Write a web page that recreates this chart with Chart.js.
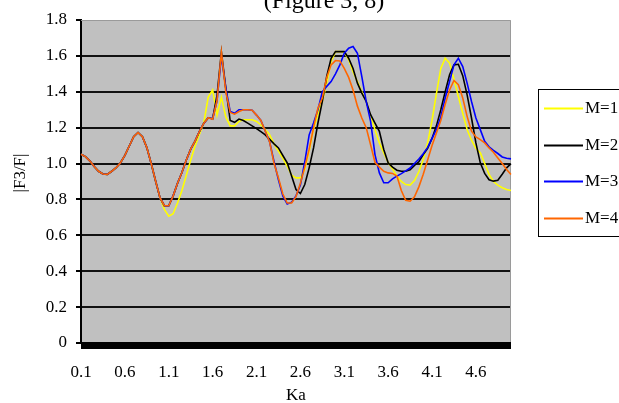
<!DOCTYPE html>
<html>
<head>
<meta charset="utf-8">
<script src="https://cdn.jsdelivr.net/npm/chart.js@4/dist/chart.umd.min.js"></script>
<style>
  html, body { margin: 0; padding: 0; background: #fff; overflow: hidden; }
  #wrap { position: relative; width: 660px; height: 410px; }
</style>
</head>
<body>
<div id="wrap"><canvas id="grafico" width="660" height="410"></canvas></div>
<script>
// ===== DATOS =====
const KA = [0.1,0.15,0.2,0.25,0.3,0.35,0.4,0.45,0.5,0.55,0.6,0.65,0.7,0.75,0.8,0.85,0.9,0.95,1.0,1.05,
            1.1,1.15,1.2,1.25,1.3,1.35,1.4,1.45,1.5,1.55,1.6,1.65,1.7,1.75,1.8,1.85,1.9,1.95,2.0,2.05,
            2.1,2.15,2.2,2.25,2.3,2.35,2.4,2.45,2.5,2.55,2.6,2.65,2.7,2.75,2.8,2.85,2.9,2.95,3.0,3.05,
            3.1,3.15,3.2,3.25,3.3,3.35,3.4,3.45,3.5,3.55,3.6,3.65,3.7,3.75,3.8,3.85,3.9,3.95,4.0,4.05,
            4.1,4.15,4.2,4.25,4.3,4.35,4.4,4.45,4.5,4.55,4.6,4.65,4.7,4.75,4.8,4.85,4.9,4.95,5.0];
const KA_TICKS = ['0.1','0.6','1.1','1.6','2.1','2.6','3.1','3.6','4.1','4.6'];

const M1 = [1.052,1.039,1.015,0.983,0.957,0.942,0.94,0.957,0.977,1.005,1.046,1.098,1.15,1.173,1.15,1.089,1.0,0.903,0.81,
            0.745,0.707,0.72,0.78,0.85,0.935,1.02,1.098,1.163,1.229,1.37,
            1.41,1.27,1.37,1.26,1.21,1.21,1.235,1.244,1.244,1.244,
            1.235,1.215,1.19,1.16,1.11,1.07,1.03,0.985,0.935,0.92,
            0.92,0.967,1.07,1.19,1.276,1.346,1.448,1.568,1.624,1.624,
            1.62,1.58,1.51,1.457,1.40,1.346,1.263,1.19,1.115,1.059,
            1.007,0.97,0.93,0.90,0.883,0.88,0.905,0.955,1.022,1.115,
            1.24,1.39,1.53,1.587,1.56,1.47,1.374,1.28,1.19,1.13,
            1.085,1.06,1.00,0.94,0.90,0.88,0.865,0.855,0.85];

const M2 = [1.052,1.039,1.015,0.983,0.957,0.942,0.94,0.957,0.977,1.005,1.046,1.098,1.15,1.173,1.15,1.089,1.0,0.903,0.81,0.765,
            0.765,0.82,0.89,0.95,1.02,1.08,1.125,1.18,1.225,1.255,
            1.25,1.38,1.62,1.42,1.24,1.23,1.248,1.24,1.225,1.21,
            1.195,1.178,1.16,1.135,1.11,1.087,1.045,1.004,0.93,0.855,
            0.833,0.883,0.976,1.087,1.226,1.346,1.485,1.587,1.624,1.624,
            1.624,1.587,1.53,1.448,1.393,1.346,1.272,1.226,1.18,1.078,
            1.004,0.98,0.963,0.957,0.957,0.965,0.99,1.01,1.05,1.085,
            1.14,1.21,1.30,1.40,1.495,1.55,1.553,1.49,1.383,1.254,
            1.115,1.004,0.945,0.91,0.902,0.907,0.94,0.976,1.0];

const M3 = [1.052,1.039,1.015,0.983,0.957,0.942,0.94,0.957,0.977,1.005,1.046,1.098,1.15,1.173,1.15,1.089,1.0,0.903,0.81,0.765,
            0.765,0.82,0.89,0.95,1.02,1.08,1.125,1.18,1.225,1.255,
            1.25,1.35,1.60,1.42,1.29,1.28,1.30,1.30,1.30,1.297,
            1.27,1.24,1.18,1.12,1.01,0.91,0.82,0.775,0.785,0.82,
            0.88,1.01,1.16,1.226,1.30,1.40,1.43,1.457,1.50,1.55,
            1.615,1.643,1.652,1.615,1.485,1.346,1.235,1.05,0.948,0.893,
            0.893,0.915,0.93,0.944,0.959,0.975,1.0,1.025,1.055,1.09,
            1.14,1.19,1.26,1.365,1.457,1.55,1.587,1.54,1.448,1.346,
            1.254,1.189,1.124,1.093,1.074,1.056,1.037,1.03,1.026];

const M4 = [1.052,1.039,1.015,0.983,0.957,0.942,0.94,0.957,0.977,1.005,1.046,1.098,1.15,1.173,1.15,1.089,1.0,0.903,0.81,0.765,
            0.765,0.82,0.89,0.95,1.02,1.08,1.125,1.18,1.225,1.255,
            1.247,1.35,1.62,1.40,1.285,1.275,1.29,1.30,1.30,1.297,
            1.27,1.24,1.18,1.12,1.00,0.92,0.83,0.78,0.78,0.815,
            0.89,0.98,1.08,1.20,1.31,1.365,1.48,1.55,1.574,1.572,
            1.53,1.48,1.41,1.32,1.254,1.20,1.105,1.007,0.98,0.957,
            0.948,0.945,0.93,0.85,0.795,0.79,0.815,0.87,0.94,1.02,
            1.10,1.17,1.24,1.33,1.41,1.463,1.44,1.365,1.263,1.18,
            1.148,1.133,1.115,1.087,1.063,1.031,1.0,0.967,0.939];

const SERIES_LABELS = ['M=1', 'M=2', 'M=3', 'M=4'];
const SERIES_COLORS = ['#ffff00', '#000000', '#0000ff', '#ff6600'];

const FUENTE = '"Liberation Serif", "Times New Roman", serif';

// ===== PLUGINS =====
// fondo gris del área de trazado, marco y franja negra inferior
const marcoPlot = {
    id: 'marcoPlot',
    beforeDraw(chart) {
        const { ctx, chartArea: a } = chart;
        ctx.save();
        ctx.fillStyle = '#ffffff';
        ctx.fillRect(0, 0, chart.width, chart.height);
        ctx.fillStyle = '#c0c0c0';
        ctx.fillRect(a.left, a.top, a.right - a.left, a.bottom - a.top);
        ctx.restore();
    },
    beforeDatasetsDraw(chart) {
        const { ctx, chartArea: a } = chart;
        ctx.save();
        ctx.strokeStyle = '#9a9a9a';
        ctx.lineWidth = 1;
        ctx.beginPath();
        ctx.moveTo(a.left, a.top + 0.5);
        ctx.lineTo(a.right - 0.5, a.top + 0.5);
        ctx.lineTo(a.right - 0.5, a.bottom + 6);
        ctx.stroke();
        ctx.fillStyle = '#000';
        ctx.fillRect(a.left, a.bottom - 1, a.right - a.left, 7);
        ctx.restore();
    }
};

// título superior (queda recortado por el borde) y rótulo vertical del eje Y
const textosFijos = {
    id: 'textosFijos',
    afterDraw(chart) {
        const ctx = chart.ctx;
        ctx.save();
        ctx.fillStyle = '#000';
        ctx.font = '24px ' + FUENTE;
        ctx.textAlign = 'center';
        ctx.textBaseline = 'alphabetic';
        ctx.fillText('(Figure 3, 8)', 324, 8);

        ctx.font = '17px ' + FUENTE;
        ctx.textBaseline = 'middle';
        ctx.translate(21, 173);
        ctx.rotate(-Math.PI / 2);
        ctx.fillText('|F3/F|', 0, 0);
        ctx.restore();
    }
};

// leyenda en recuadro a la derecha
const leyendaLateral = {
    id: 'leyendaLateral',
    afterDraw(chart) {
        const ctx = chart.ctx;
        const x = 538, y = 89, w = 112, h = 147;
        ctx.save();
        ctx.fillStyle = '#fff';
        ctx.fillRect(x, y, w, h);
        ctx.strokeStyle = '#000';
        ctx.lineWidth = 1;
        ctx.strokeRect(x + 0.5, y + 0.5, w, h);
        ctx.font = '17px ' + FUENTE;
        ctx.textBaseline = 'middle';
        chart.data.datasets.forEach((ds, k) => {
            const ly = Math.round(y + 19 + k * 36.7) + 0.5;
            ctx.strokeStyle = ds.borderColor;
            ctx.lineWidth = 2;
            ctx.beginPath();
            ctx.moveTo(x + 6, ly);
            ctx.lineTo(x + 45, ly);
            ctx.stroke();
            ctx.fillStyle = '#000';
            ctx.fillText(ds.label, x + 47, ly);
        });
        ctx.restore();
    }
};

// ===== GRÁFICO =====
const valores = [M1, M2, M3, M4];

new Chart(document.getElementById('grafico'), {
    type: 'line',
    data: {
        labels: KA,
        datasets: valores.map((serie, k) => ({
            label: SERIES_LABELS[k],
            data: serie,
            borderColor: SERIES_COLORS[k],
            backgroundColor: SERIES_COLORS[k],
            borderWidth: 1.6,
            pointRadius: 0,
            tension: 0,
            fill: false,
            order: 4 - k
        }))
    },
    options: {
        responsive: false,
        animation: false,
        devicePixelRatio: 1,
        layout: { padding: { left: 0, right: 149, top: 20, bottom: 0 } },
        plugins: {
            legend: { display: false },
            tooltip: { enabled: false }
        },
        scales: {
            x: {
                type: 'category',
                offset: false,
                afterFit: s => { s.height = 67; },
                grid: { display: false, drawTicks: false },
                border: { display: false },
                ticks: {
                    autoSkip: false,
                    maxRotation: 0,
                    padding: 19,
                    color: '#000',
                    font: { family: FUENTE, size: 17 },
                    callback: (v, idx) => {
                        const t = String(KA[idx]);
                        return KA_TICKS.includes(t) ? t : '';
                    }
                },
                title: {
                    display: true,
                    text: 'Ka',
                    color: '#000',
                    font: { family: FUENTE, size: 17 },
                    padding: { top: 0, bottom: 4 }
                }
            },
            y: {
                min: 0,
                max: 1.8,
                afterFit: s => { s.width = 81; },
                ticks: {
                    stepSize: 0.2,
                    padding: 9,
                    color: '#000',
                    font: { family: FUENTE, size: 17 }
                },
                grid: {
                    color: c => (c.tick && c.tick.value >= 1.79) ? 'rgba(0,0,0,0)' : '#111',
                    lineWidth: 2,
                    tickLength: 5,
                    tickColor: '#000',
                    tickWidth: 2
                },
                border: { display: true, color: '#000', width: 2 }
            }
        }
    },
    plugins: [marcoPlot, textosFijos, leyendaLateral]
});
</script>
</body>
</html>
